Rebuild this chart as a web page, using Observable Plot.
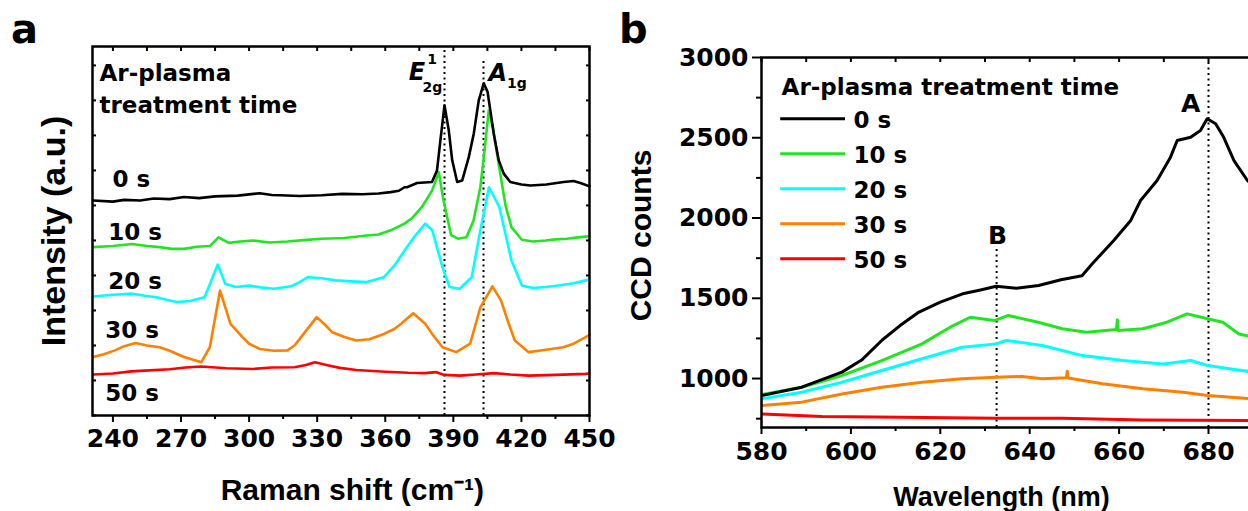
<!DOCTYPE html>
<html><head><meta charset="utf-8">
<script src="https://cdn.jsdelivr.net/npm/d3@7"></script>
<script src="https://cdn.jsdelivr.net/npm/@observablehq/plot@0.6"></script>
<style>
html,body{margin:0;padding:0;background:#fff;overflow:hidden}
#wrap{position:relative;width:1248px;height:511px;overflow:hidden;font-family:"DejaVu Sans",sans-serif;font-weight:bold;color:#000}
#pa{position:absolute;left:0;top:0}
#pb{position:absolute;left:620px;top:0;width:628px;height:511px;overflow:hidden}
#pa svg,#pb svg{max-width:none !important;display:block}
.plab{position:absolute;font-size:40px;line-height:40px;font-weight:bold}
</style></head><body>
<div id="wrap">
<div id="pa"></div><div id="pb"></div>
<div class="plab" style="left:11px;top:9px">a</div>
<div class="plab" style="left:619px;top:9px">b</div>
</div>
<script>
// ---------- series ----------
const times = ["0 s", "10 s", "20 s", "30 s", "50 s"];
const colors = ["#000000", "#22e522", "#00ffff", "#ff8000", "#ff0000"];

// Panel a: Raman spectra (Raman shift cm-1, intensity a.u., offset)
const raman0s = [[231.3,614],[240,611],[245,616],[252,614],[258,620],[265,618],[271.3,624],[278,621],[285,626],[295,628],[304.7,635],[310,630],[313.8,629],[322,627],[332,629],[341,633],[350,632],[357,634],[362.4,638],[366,642],[368.5,652],[369.6,652],[374,664],[380.6,667],[382.8,700],[384.3,786],[386.1,886],[388,814],[389.5,729],[391.7,667],[393.9,671],[396.8,738],[399,805],[401.2,900],[403.4,949],[405.1,924],[407.8,805],[410,729],[412.2,691],[415.1,667],[420,660],[424,657],[431,660],[438.6,667],[443,670],[446,664],[449,657],[450,655]];
const raman10s = [[231.3,481],[240,484],[248.5,490],[255,484],[260.6,481],[266,476],[271.3,476],[277,482],[282.7,484],[286.5,509],[291,493],[296,497],[301.7,500],[309,494],[316.9,497],[324,501],[332,505],[342,507],[351.8,514],[357,517],[362.4,529],[368.5,548],[372,565],[376.1,595],[380.7,643],[383.6,695],[385.5,620],[387.5,560],[389,515],[392,505],[395.8,509],[398.9,557],[401.9,652],[403.8,760],[405.6,871],[407.5,820],[410.7,690],[413,600],[415.6,538],[420.2,502],[425,497],[430.8,500],[435,503],[440,505],[444,508],[448.3,511],[450,512]];
const raman20s = [[231.3,340],[240,345],[248.5,348],[254,342],[259.1,338],[264,330],[268.2,324],[274,327],[280.4,338],[283.4,386],[286.2,431],[289.5,376],[294.1,367],[300,371],[305,366],[310.8,362],[318.4,369],[322,380],[326,395],[332,392],[338.1,386],[345,383],[351.8,381],[355,387],[359.4,395],[364,428],[368.5,471],[373,512],[377.6,548],[380.7,529],[385.2,424],[388.3,367],[392.8,362],[398.1,395],[401.9,529],[405.7,652],[410.3,595],[415.6,443],[420.2,371],[425,364],[430.8,367],[437,372],[443,378],[448.3,386],[450,388]];
const raman30s = [[231.3,167],[236,175],[240.9,186],[245,198],[250,207],[255,200],[260.6,195],[265,185],[271.3,167],[275,160],[278.9,152],[282.7,195],[287.2,357],[291.8,262],[297.1,224],[300,205],[304.7,190],[311,185],[316.9,186],[320,200],[322.9,224],[329.8,281],[333,262],[336.6,238],[342,224],[347.2,214],[353,218],[359.4,233],[364,247],[367,262],[372.3,292],[377.6,262],[381,230],[385.2,195],[391.3,181],[397.4,205],[401.9,309],[407.2,369],[411,329],[414,270],[417.1,214],[423.2,181],[430,187],[438.4,195],[443,205],[448.3,224],[450,230]];
const raman50s = [[231.3,117],[240,120],[248,126],[256.1,129],[265,132],[272,137],[278.9,140],[290,135],[301.7,133],[310,137],[320,138],[325,144],[329,152],[335,143],[340,136],[347.2,130],[360,125],[370,122],[377.6,121],[382.2,124],[386,116],[392.8,114],[400,117],[408,121],[415,117],[423.2,114],[435,116],[448.3,119],[450,120]];

// Panel b: PL spectra (wavelength nm, CCD counts)
const pl0s = [[580,894],[589,946],[598,1040],[602.4,1115],[607,1240],[611,1330],[615,1410],[620,1476],[625,1528],[629,1552],[632.5,1575],[637,1562],[642,1580],[647,1615],[651.7,1640],[654,1715],[658.8,1860],[662.6,1985],[664.8,2109],[668.5,2234],[671.5,2379],[673,2483],[676,2503],[678.2,2545],[679.7,2618],[681.6,2587],[683.4,2503],[685.7,2358],[688.7,2234],[690,2200]];
const pl10s = [[580,900],[589,946],[598,1019],[606.9,1112],[615.9,1216],[622.2,1320],[626.7,1382],[632.1,1361],[635.2,1393],[641.9,1351],[647.3,1310],[652.7,1289],[659.4,1305],[659.6,1366],[659.8,1300],[665.3,1310],[670.7,1351],[675.2,1403],[679.8,1372],[683.2,1351],[686.8,1278],[690,1258]];
const pl20s = [[580,873],[589,915],[598,977],[606.9,1050],[615.9,1123],[624.9,1195],[632.5,1216],[634.8,1237],[642.8,1206],[651.8,1143],[660.8,1112],[669.8,1091],[676,1112],[679.8,1081],[685,1060],[690,1040]];
const pl30s = [[580,832],[589,853],[598,904],[606.9,946],[615.9,977],[624.9,998],[632.5,1008],[638.3,1013],[642.8,998],[648.2,1005],[648.4,1045],[648.6,1003],[656.3,967],[665.3,936],[674.3,915],[679.8,894],[690,873]];
const pl50s = [[580,780],[593.5,763],[611.4,759],[632.5,753],[647.3,753],[665.3,742],[690,738]];

// ---------- ticks ----------
const ramanTicks = [240, 270, 300, 330, 360, 390, 420, 450];
const ramanMinorTicks = [255, 285, 315, 345, 375, 405, 435];
const ramanTopTicks = [240, 255, 270, 285, 300, 315, 330, 345, 360, 375, 390, 405, 420, 435, 450];
const intensityTicks = [0, 100, 200, 300, 400, 500, 600, 700, 800, 900, 1000];
const wlTicks = [580, 600, 620, 640, 660, 680];
const wlMinorTicks = [590, 610, 630, 650, 670, 690];
const countTicks = [1000, 1500, 2000, 2500, 3000];
const countMinorTicks = [750, 1250, 1750, 2250, 2750];

// ---------- annotations ----------
const ramanModes = [386.1, 403.3];          // E2g^1, A1g positions (cm-1)
const ramanModeTops = [1043, 1020];
const plPeaks = ["A", "B"];
const plPeakNm = [680, 632.6];
const plPeakTops = [3000, 1810];

// ---------- build tables ----------
const ramanSeries = [raman0s, raman10s, raman20s, raman30s, raman50s];
const plSeries = [pl0s, pl10s, pl20s, pl30s, pl50s];
const ramanData = ramanSeries.flatMap((s, i) => s.map(([x, y]) => ({time: times[i], x, y})));
const plData = plSeries.flatMap((s, i) => s.map(([x, y]) => ({time: times[i], x, y})));
const drawOrder = [4, 3, 2, 1, 0];
const ordered = (data) => drawOrder.flatMap(i => data.filter(d => d.time === times[i]));

const F = "DejaVu Sans";
const T = "Liberation Sans";
const colorScale = {domain: times, range: colors};

// panel a label layout (data coordinates)
const ramanSeriesLabels = [
  {t: "0 s", x: 239.8, y: 674},
  {t: "10 s", x: 237.9, y: 523},
  {t: "20 s", x: 237.9, y: 383},
  {t: "30 s", x: 236.6, y: 243},
  {t: "50 s", x: 236.6, y: 63}
];

const A = Plot.plot({
  width: 620, height: 511,
  marginLeft: 92, marginRight: 31, marginTop: 46, marginBottom: 96,
  x: {domain: [231, 450], label: null},
  y: {domain: [0, 1054], label: null},
  color: colorScale,
  style: {fontFamily: F, fontWeight: "bold", background: "transparent", color: "#000", overflow: "visible", maxWidth: "none"},
  marks: [
    Plot.ruleX(ramanModes, {x: d => d, y1: 0, y2: (d, i) => ramanModeTops[i], stroke: "#000", strokeWidth: 2, strokeDasharray: "2,3.5"}),
    Plot.line(ordered(ramanData), {x: "x", y: "y", z: "time", stroke: "time", strokeWidth: 2.6, curve: "linear"}),
    Plot.frame({stroke: "#000", strokeWidth: 2.5}),
    Plot.axisX(ramanTicks, {tickSize: 7, tickPadding: 7, fontSize: 25, fontWeight: "bold", strokeWidth: 2}),
    Plot.axisX(ramanMinorTicks, {tickSize: 4, text: null, strokeWidth: 2}),
    Plot.axisX(ramanTopTicks, {anchor: "top", tickSize: -4, text: null, strokeWidth: 2}),
    Plot.axisY(intensityTicks, {anchor: "left", tickSize: -4, text: null, strokeWidth: 2}),
    Plot.axisY(intensityTicks, {anchor: "right", tickSize: -4, text: null, strokeWidth: 2}),
    Plot.text(["Ar-plasma", "treatment time"], {x: [234.1, 234.1], y: [977, 886], text: d => d, textAnchor: "start", lineAnchor: "middle", fontSize: 23, fontWeight: "bold"}),
    Plot.text(ramanSeriesLabels, {x: "x", y: "y", text: "t", textAnchor: "start", lineAnchor: "middle", fontSize: 23, fontWeight: "bold"}),
    Plot.text(["E"], {x: [374], y: [981], text: d => d, fontSize: 24, fontStyle: "italic", fontWeight: "bold", lineAnchor: "middle"}),
    Plot.text(["1"], {x: [380.6], y: [1017], text: d => d, fontSize: 14, fontWeight: "bold", lineAnchor: "middle"}),
    Plot.text(["2g"], {x: [380.8], y: [938], text: d => d, fontSize: 14, fontWeight: "bold", lineAnchor: "middle"}),
    Plot.text(["A"], {x: [409.6], y: [978], text: d => d, fontSize: 24, fontStyle: "italic", fontWeight: "bold", lineAnchor: "middle"}),
    Plot.text(["1g"], {x: [418], y: [949], text: d => d, fontSize: 14, fontWeight: "bold", lineAnchor: "middle"}),
    Plot.text(["Raman shift (cm\u207B\u00B9)"], {x: [345.5], text: d => d, frameAnchor: "bottom", dy: 75, fontFamily: T, fontSize: 30, fontWeight: "bold", lineAnchor: "middle"}),
    Plot.text(["Intensity (a.u.)"], {frameAnchor: "left", rotate: -90, dx: -38, text: d => d, textAnchor: "middle", fontFamily: T, fontSize: 34, fontWeight: "bold", lineAnchor: "middle"})
  ]
});
document.getElementById("pa").appendChild(A);

// panel b legend layout (data coordinates)
const legX0 = 584.3, legX1 = 598.8, legTextX = 600.6, legTop = 2618, legStep = 218;
const legend = times.map((t, i) => ({time: t, y: legTop - i * legStep}));

const B = Plot.plot({
  width: 700, height: 511,
  marginLeft: 141, marginRight: 22.6, marginTop: 57, marginBottom: 84,
  x: {domain: [580, 700], label: null},
  y: {domain: [695, 3000], label: null},
  color: colorScale,
  style: {fontFamily: F, fontWeight: "bold", background: "transparent", color: "#000", overflow: "visible", maxWidth: "none"},
  marks: [
    Plot.ruleX(plPeakNm, {x: d => d, y1: 695, y2: (d, i) => plPeakTops[i], stroke: "#000", strokeWidth: 2, strokeDasharray: "2,3.5"}),
    Plot.line(ordered(plData), {x: "x", y: "y", z: "time", stroke: "time", strokeWidth: 3, clip: true}),
    Plot.frame({stroke: "#000", strokeWidth: 2.5}),
    Plot.axisX(wlTicks, {tickSize: 7, tickPadding: 8, fontSize: 25, fontWeight: "bold", strokeWidth: 2}),
    Plot.axisX(wlMinorTicks, {tickSize: 4, text: null, strokeWidth: 2}),
    Plot.axisX([...wlTicks, ...wlMinorTicks], {anchor: "top", tickSize: -4, text: null, strokeWidth: 2}),
    Plot.axisY(countTicks, {tickSize: 9, tickPadding: 4, fontSize: 25, fontWeight: "bold", strokeWidth: 2, tickFormat: d3.format("d")}),
    Plot.axisY(countMinorTicks, {tickSize: 5, text: null, strokeWidth: 2}),
    Plot.text(["Ar-plasma treatment time"], {x: [584.5], y: [2813], text: d => d, textAnchor: "start", lineAnchor: "middle", fontSize: 23, fontWeight: "bold"}),
    Plot.ruleY(legend, {x1: legX0, x2: legX1, y: "y", stroke: "time", strokeWidth: 3}),
    Plot.text(legend, {x: legTextX, y: d => d.y - 12, text: "time", textAnchor: "start", lineAnchor: "middle", fontSize: 23, fontWeight: "bold"}),
    Plot.text(plPeaks, {x: [676, 632.8], y: [2713, 1885], text: d => d, fontSize: 25, fontWeight: "bold", lineAnchor: "middle"}),
    Plot.text(["Wavelength (nm)"], {x: [633.7], text: d => d, frameAnchor: "bottom", dy: 70, fontFamily: T, fontSize: 27, fontWeight: "bold", lineAnchor: "middle"}),
    Plot.text(["CCD counts"], {frameAnchor: "left", rotate: -90, dx: -120, dy: -7, text: d => d, textAnchor: "middle", fontFamily: T, fontSize: 30, fontWeight: "bold", lineAnchor: "middle"})
  ]
});
document.getElementById("pb").appendChild(B);
</script>
</body></html>
